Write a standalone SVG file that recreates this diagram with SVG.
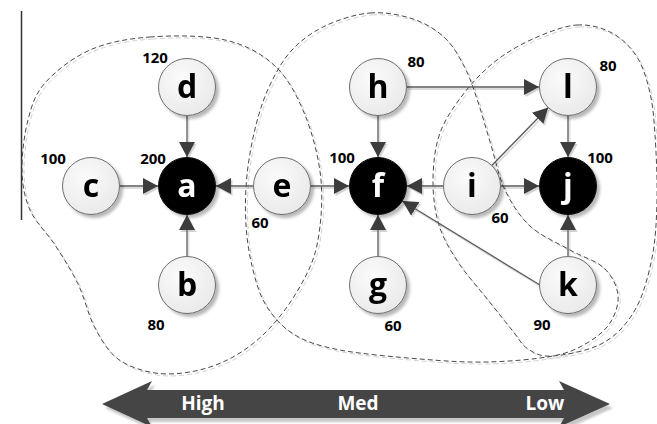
<svg xmlns="http://www.w3.org/2000/svg" width="657" height="424" viewBox="0 0 657 424">
<defs>
<style>
.blob{fill:none;stroke:#4a4a4a;stroke-width:1;stroke-dasharray:5 3}
.blobsh{fill:none;stroke:#d2d2d2;stroke-width:1;stroke-dasharray:5 3}
.n circle{fill:url(#gl);stroke:#6e6e6e;stroke-width:1}
.n.dark circle{fill:#000;stroke:#111}
.n text{font-family:"Open Sans","Noto Sans","DejaVu Sans",sans-serif;font-weight:bold;font-size:32px;text-anchor:middle;fill:#000}
.n.dark text{fill:#fff}
.num{font-family:"Open Sans","Noto Sans","DejaVu Sans",sans-serif;font-weight:bold;font-size:15px;text-anchor:middle;fill:#000}
.edge{fill:none;stroke:#5a5a5a;stroke-width:1.3;marker-end:url(#ah)}
.scale{font-family:"Open Sans","Noto Sans","DejaVu Sans",sans-serif;font-weight:bold;font-size:19px;text-anchor:middle;fill:#fff}
</style>
<radialGradient id="gl" cx="0.4" cy="0.35" r="0.7">
<stop offset="0" stop-color="#fbfbfb"/>
<stop offset="1" stop-color="#e9e9e9"/>
</radialGradient>
<filter id="nsh" x="-30%" y="-30%" width="170%" height="170%">
<feDropShadow dx="3" dy="3" stdDeviation="1.5" flood-color="#000" flood-opacity="0.28"/>
</filter>
<filter id="esh" x="-10%" y="-10%" width="120%" height="120%">
<feDropShadow dx="1.5" dy="2" stdDeviation="0.6" flood-color="#000" flood-opacity="0.18"/>
</filter>
<filter id="ash" x="-5%" y="-20%" width="110%" height="150%">
<feDropShadow dx="3" dy="4" stdDeviation="1" flood-color="#000" flood-opacity="0.22"/>
</filter>
<marker id="ah" viewBox="0 0 15 16" refX="15" refY="8" markerWidth="15" markerHeight="16" markerUnits="userSpaceOnUse" orient="auto">
<path d="M0,0 L15,8 L0,16 z" fill="#3c3c3c"/>
</marker>
<path id="b1" d="M150,37 C172.5,35.3 204.2,35.2 225,40 S261.7,53.5 275,66 S297.3,96 305,115 S319,158.3 321,180 S320.8,226.7 317,245 S306.2,275.8 298,290 S278.8,318.8 268,330 S245.2,350.2 233,357 S208,368.3 195,371 S167.8,375 155,373 S128,366.5 118,359 S101.7,340.5 95,328 S84.7,297.8 78,284 S63,257.3 55,245 S35.5,222.5 30,210 S22.3,185 22,170 S24.2,134.5 28,120 S34.7,94.7 45,83 S72.5,57.7 90,50 S127.5,38.7 150,37 Z"/>
<path id="b2" d="M370,13 C384.7,11.8 400.5,14.8 413,19 S436.3,29.8 445,38 S459.5,57.3 465,68 S473.7,89.2 478,102 S486.5,130.3 491,145 S498.5,176.5 505,190 S519.2,216 530,226 S557.7,243 570,250 S596,260.5 604,268 S617,285.8 618,295 S615.2,315 610,323 S596.5,337.5 587,343 S569.7,352.8 553,356 S509.2,361.5 487,362 S444.5,361 420,359 S360.8,354 340,350 S307.2,342.2 295,335 S274,317.8 267,307 S256.5,283.7 253,270 S247,240.8 246,225 S245.3,191.7 247,175 S252.2,140 256,125 S264,97.5 270,85 S282.8,59.8 292,50 S312,32.2 325,26 S355.3,14.2 370,13 Z"/>
<path id="b3" d="M577,25 C589.8,24.2 602,27.7 612,33 S630.7,47 637,57 S647,80 650,93 S653.8,117.2 655,135 S657.5,179.5 657,200 S655.7,239.7 652,258 S643.2,295.8 635,310 S616.7,335.3 603,343 S565.5,355 553,356 S534.8,353.3 528,349 S518.7,338.2 512,330 S497,311.3 488,300 S466.2,274.5 458,262 S443.2,238.7 439,225 S432.8,195.3 433,180 S434.7,147.7 440,133 S455.5,104.2 465,92 S485.3,69 497,60 S521.7,43.8 535,38 S564.2,25.8 577,25 Z"/>
</defs>
<rect width="657" height="424" fill="#fff"/>
<line x1="21.5" y1="11" x2="21.5" y2="220" stroke="#333" stroke-width="1.5"/>
<g id="clusters">
<use href="#b1" class="blobsh" transform="translate(2,2)"/>
<use href="#b2" class="blobsh" transform="translate(2,2)"/>
<use href="#b3" class="blobsh" transform="translate(2,2)"/>
<use href="#b1" class="blob"/>
<use href="#b2" class="blob"/>
<use href="#b3" class="blob"/>
</g>
<g id="connectors" filter="url(#esh)">
<path class="edge" d="M187,116 L187,157"/>
<path class="edge" d="M120,186 L158,186"/>
<path class="edge" d="M187,256 L187,215"/>
<path class="edge" d="M253,186 L216,186"/>
<path class="edge" d="M311,186 L349,186"/>
<path class="edge" d="M378,116 L378,157"/>
<path class="edge" d="M378,256 L378,215"/>
<path class="edge" d="M443,186 L407,186"/>
<path class="edge" d="M501,186 L539,186"/>
<path class="edge" d="M407,87 L539,87"/>
<path class="edge" d="M568,116 L568,157"/>
<path class="edge" d="M568,256 L568,215"/>
<path class="edge" d="M491.8,165.5 L548.2,107.5"/>
<path class="edge" d="M540,285 L402.5,201"/>
</g>
<g id="node-a" class="n dark" filter="url(#nsh)"><circle cx="187" cy="186" r="28.5"/><text x="187" y="197">a</text></g>
<g id="node-b" class="n" filter="url(#nsh)"><circle cx="187" cy="285" r="28.5"/><text x="187" y="296">b</text></g>
<g id="node-c" class="n" filter="url(#nsh)"><circle cx="91" cy="186" r="28.5"/><text x="91" y="197">c</text></g>
<g id="node-d" class="n" filter="url(#nsh)"><circle cx="187" cy="87" r="28.5"/><text x="187" y="98">d</text></g>
<g id="node-e" class="n" filter="url(#nsh)"><circle cx="282" cy="186" r="28.5"/><text x="282" y="197">e</text></g>
<g id="node-f" class="n dark" filter="url(#nsh)"><circle cx="378" cy="186" r="28.5"/><text x="378" y="197">f</text></g>
<g id="node-g" class="n" filter="url(#nsh)"><circle cx="378" cy="285" r="28.5"/><text x="378" y="296">g</text></g>
<g id="node-h" class="n" filter="url(#nsh)"><circle cx="378" cy="87" r="28.5"/><text x="378" y="98">h</text></g>
<g id="node-i" class="n" filter="url(#nsh)"><circle cx="472" cy="186" r="28.5"/><text x="472" y="197">i</text></g>
<g id="node-j" class="n dark" filter="url(#nsh)"><circle cx="568" cy="186" r="28.5"/><text x="568" y="197">j</text></g>
<g id="node-k" class="n" filter="url(#nsh)"><circle cx="568" cy="285" r="28.5"/><text x="568" y="296">k</text></g>
<g id="node-l" class="n" filter="url(#nsh)"><circle cx="568" cy="87" r="28.5"/><text x="568" y="98">l</text></g>
<g id="weights">
<text class="num" x="155" y="63">120</text>
<text class="num" x="53" y="164">100</text>
<text class="num" x="153" y="164">200</text>
<text class="num" x="260" y="228">60</text>
<text class="num" x="156" y="330">80</text>
<text class="num" x="416" y="67">80</text>
<text class="num" x="608" y="71">80</text>
<text class="num" x="342" y="163">100</text>
<text class="num" x="600" y="163">100</text>
<text class="num" x="500" y="223">60</text>
<text class="num" x="393" y="331">60</text>
<text class="num" x="542" y="330">90</text>
</g>
<g id="scale">
<polygon points="102,404 152,381 147,390 564,390 559,381 610,404 559,427 564,418 147,418 152,427" fill="#454545" filter="url(#ash)"/>
<text class="scale" x="203" y="410">High</text>
<text class="scale" x="358" y="410">Med</text>
<text class="scale" x="545" y="410">Low</text>
</g>
</svg>
